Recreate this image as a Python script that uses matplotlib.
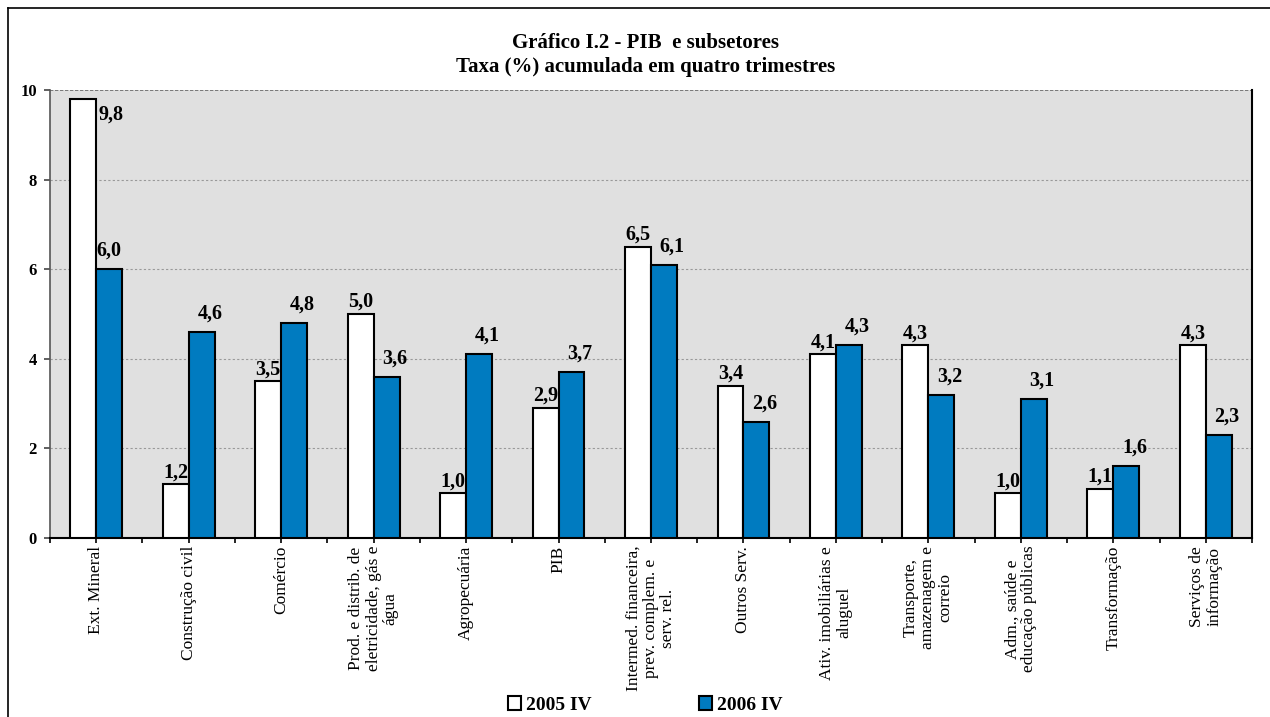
import numpy as np
import matplotlib
matplotlib.use("Agg")
from matplotlib import pyplot as plt
from matplotlib.lines import Line2D

categories = [
    "Ext. Mineral",
    "Construção civil",
    "Comércio",
    "Prod. e distrib. de\neletricidade, gás e\nágua",
    "Agropecuária",
    "PIB",
    "Intermed. financeira,\nprev. complem. e\nserv. rel.",
    "Outros Serv.",
    "Ativ. imobiliárias e\naluguel",
    "Transporte,\namazenagem e\ncorreio",
    "Adm., saúde e\neducação públicas",
    "Transformação",
    "Serviços de\ninformação",
]
s2005 = [9.8, 1.2, 3.5, 5.0, 1.0, 2.9, 6.5, 3.4, 4.1, 4.3, 1.0, 1.1, 4.3]
s2006 = [6.0, 4.6, 4.8, 3.6, 4.1, 3.7, 6.1, 2.6, 4.3, 3.2, 3.1, 1.6, 2.3]
series_names = ["2005 IV", "2006 IV"]

plt.rcParams["font.family"] = ["Liberation Serif", "DejaVu Serif"]

fig = plt.figure(figsize=(12.7, 7.17), dpi=100)
ax = fig.add_axes([50 / 1270, 1 - 538 / 717, (1252 - 50) / 1270, (538 - 90) / 717])
ax.set_facecolor("#e0e0e0")

x = np.arange(len(categories))
w = 0.28
b1 = ax.bar(x - w / 2, s2005, w, color="white", edgecolor="black", linewidth=1.5,
            label=series_names[0], zorder=3)
b2 = ax.bar(x + w / 2, s2006, w, color="#007bc0", edgecolor="black", linewidth=1.5,
            label=series_names[1], zorder=3)

def fmt(v):
    return f"{v:.1f}".replace(".", ",")

for i, v in enumerate(s2005):
    if i == 0:
        # no room above the tallest bar, Excel puts it beside
        ax.annotate(fmt(v), (x[i] - w / 2, v), xytext=(11, -4), textcoords="offset points",
                    ha="left", va="top", fontsize=14.5, fontweight="bold")
    else:
        ax.annotate(fmt(v), (x[i] - w / 2, v), xytext=(0, 1.5), textcoords="offset points",
                    ha="center", va="bottom", fontsize=14.5, fontweight="bold")
for i, v in enumerate(s2006):
    dx = 0 if i == 0 else 6
    ax.annotate(fmt(v), (x[i] + w / 2, v), xytext=(dx, 6), textcoords="offset points",
                ha="center", va="bottom", fontsize=14.5, fontweight="bold")

ax.set_xlim(-0.5, len(categories) - 0.5)
ax.set_ylim(0, 10)
ax.set_yticks(np.arange(0, 11, 2))
ax.set_yticklabels([str(t) for t in range(0, 11, 2)], fontsize=12, fontweight="bold")
ax.set_xticks(x)
ax.set_xticklabels(categories, rotation=90, fontsize=12.5, ha="center", va="top",
                   multialignment="center", linespacing=1.1)
ax.set_xticks(np.arange(-0.5, len(categories), 1.0), minor=True)
ax.tick_params(axis="x", which="both", length=3.6, width=1.2, color="black", pad=2)
ax.tick_params(axis="y", length=4.3, width=1.2, color="#444444", pad=5)

for y in [2, 4, 6, 8]:
    ax.axhline(y, color="#999999", linestyle=(0, (2, 2)), linewidth=0.8, zorder=1)
ax.axhline(10, color="#666666", linestyle=(0, (2, 1)), linewidth=1.2, zorder=1)

ax.spines["top"].set_visible(False)
ax.spines["left"].set_color("#555555")
ax.spines["left"].set_linewidth(1.2)
ax.spines["bottom"].set_linewidth(1.5)
ax.spines["right"].set_linewidth(1.5)

fig.text(0.508, 1 - 43 / 717, "Gráfico I.2 - PIB  e subsetores", ha="center", va="center",
         fontsize=15, fontweight="bold")
fig.text(0.508, 1 - 67 / 717, "Taxa (%) acumulada em quatro trimestres", ha="center",
         va="center", fontsize=15, fontweight="bold")

fig.legend(handles=[b1, b2], loc="lower center", bbox_to_anchor=(0.508, -0.02), ncol=2,
           frameon=False, handlelength=0.7, handleheight=0.7, handletextpad=0.25,
           columnspacing=5.5, prop={"weight": "bold", "size": 14})

# outer chart frame (runs off the right and bottom of the image)
fig.add_artist(Line2D([8 / 1270, 8 / 1270], [-0.1, 1 - 8 / 717], color="black",
                      linewidth=1.2, transform=fig.transFigure))
fig.add_artist(Line2D([8 / 1270, 1.1], [1 - 8 / 717, 1 - 8 / 717], color="black",
                      linewidth=1.2, transform=fig.transFigure))

fig.savefig("out.png", dpi=100)
